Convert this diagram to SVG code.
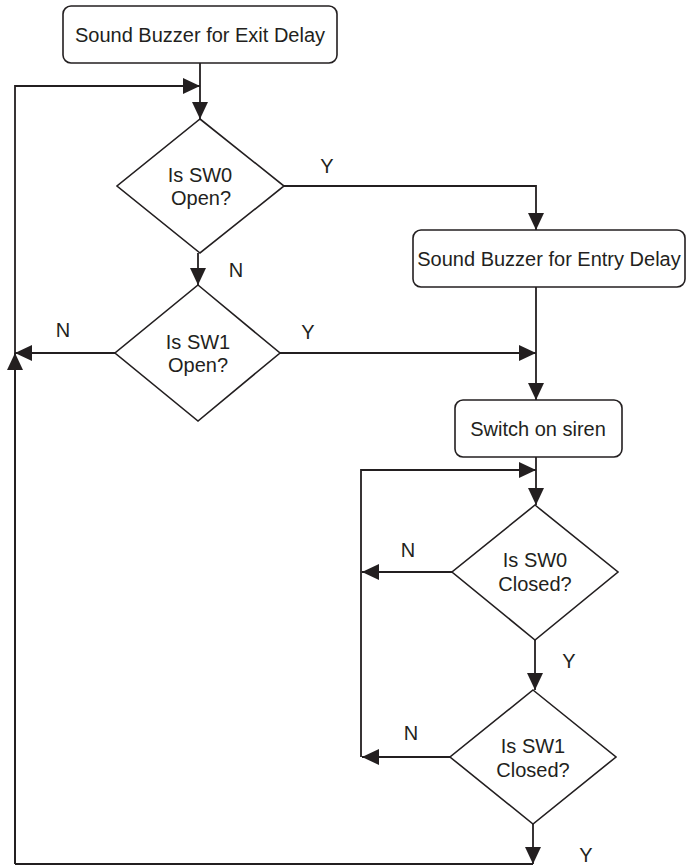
<svg xmlns="http://www.w3.org/2000/svg" width="686" height="866" viewBox="0 0 686 866">
  <style>
    .shape { fill: #ffffff; stroke: #231f20; stroke-width: 1.6; }
    .wire { fill: none; stroke: #231f20; stroke-width: 1.8; }
    text { font-family: "Liberation Sans", Arial, sans-serif; font-size: 20px; fill: #231f20; text-anchor: middle; }
  </style>
  <defs>
    <marker id="arrow" markerUnits="userSpaceOnUse" markerWidth="18" markerHeight="17" refX="17" refY="8" orient="auto">
      <path d="M0,0 L17,8 L0,16 z" fill="#231f20"/>
    </marker>
  </defs>

  <!-- flow connectors -->
  <g id="connectors">
    <path class="wire" d="M200,63 V119" marker-end="url(#arrow)"/>
    <path class="wire" d="M15,864 V86 H200" marker-end="url(#arrow)"/>
    <path class="wire" d="M15,864 V353" marker-end="url(#arrow)"/>
    <path class="wire" d="M284,186 H536 V230" marker-end="url(#arrow)"/>
    <path class="wire" d="M198,253 V285" marker-end="url(#arrow)"/>
    <path class="wire" d="M115,353 H15" marker-end="url(#arrow)"/>
    <path class="wire" d="M280,353 H536" marker-end="url(#arrow)"/>
    <path class="wire" d="M536,287 V400" marker-end="url(#arrow)"/>
    <path class="wire" d="M536,457 V505" marker-end="url(#arrow)"/>
    <path class="wire" d="M361,757 V470 H536" marker-end="url(#arrow)"/>
    <path class="wire" d="M452,572 H362" marker-end="url(#arrow)"/>
    <path class="wire" d="M535,640 V690" marker-end="url(#arrow)"/>
    <path class="wire" d="M450,757 H362" marker-end="url(#arrow)"/>
    <path class="wire" d="M533,824 V864" marker-end="url(#arrow)"/>
    <path class="wire" d="M533,864 H15"/>
  </g>

  <!-- branch labels -->
  <g id="labels">
    <text x="327" y="173">Y</text>
    <text x="236" y="277">N</text>
    <text x="63" y="337">N</text>
    <text x="308" y="339">Y</text>
    <text x="408" y="557">N</text>
    <text x="569" y="668">Y</text>
    <text x="411" y="740">N</text>
    <text x="586" y="862">Y</text>
  </g>

  <g id="exit-delay">
    <rect class="shape" x="63" y="6" width="274" height="57" rx="8"/>
    <text x="200" y="42">Sound Buzzer for Exit Delay</text>
  </g>

  <g id="sw0-open">
    <polygon class="shape" points="200,119 284,186 200,253 117,186"/>
    <text x="200" y="182">Is SW0</text>
    <text x="201" y="205">Open?</text>
  </g>

  <g id="sw1-open">
    <polygon class="shape" points="198,285 280,353 198,421 115,353"/>
    <text x="198" y="349">Is SW1</text>
    <text x="198" y="372">Open?</text>
  </g>

  <g id="entry-delay">
    <rect class="shape" x="413" y="230" width="272" height="57" rx="8"/>
    <text x="549" y="266">Sound Buzzer for Entry Delay</text>
  </g>

  <g id="siren">
    <rect class="shape" x="455" y="400" width="167" height="57" rx="8"/>
    <text x="538" y="436">Switch on siren</text>
  </g>

  <g id="sw0-closed">
    <polygon class="shape" points="535,505 618,572 535,640 452,572"/>
    <text x="535" y="567">Is SW0</text>
    <text x="535" y="591">Closed?</text>
  </g>

  <g id="sw1-closed">
    <polygon class="shape" points="533,690 616,757 533,824 450,757"/>
    <text x="533" y="753">Is SW1</text>
    <text x="533" y="777">Closed?</text>
  </g>
</svg>
